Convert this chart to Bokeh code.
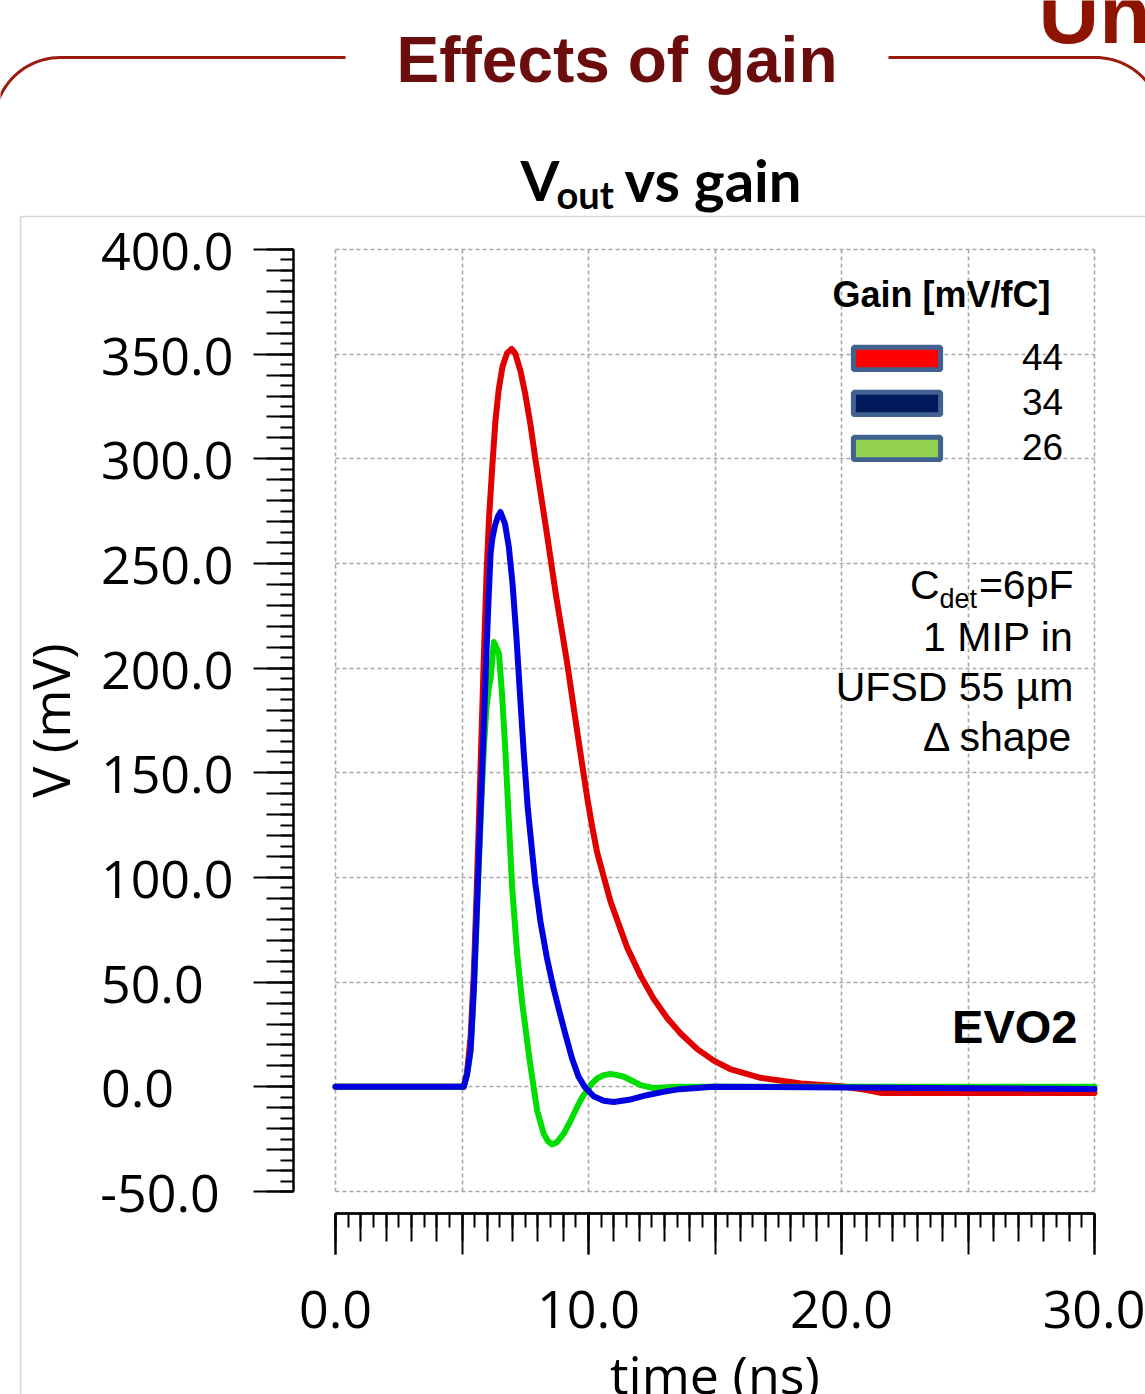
import numpy as np
from bokeh.plotting import figure
from bokeh.models import (Range1d, LinearAxis, FixedTicker, Grid, Label, Legend,
                          LegendItem, ColumnDataSource, PolyAnnotation, BoxAnnotation)
from bokeh.embed import file_html
from bokeh.resources import INLINE

# ---------------- data ----------------
gains = ["44", "34", "26"]
line_colors = ["#e00000", "#0000e0", "#00dd00"]
swatch_colors = ["#ff0000", "#001a5c", "#92d050"]

t_44 = [0.0, 5.07, 5.2, 5.34, 5.47, 5.57, 5.67, 5.77, 5.87, 5.97, 6.07, 6.19, 6.32, 6.45,
        6.6, 6.78, 6.96, 7.1, 7.31, 7.5, 7.71, 7.9, 8.04, 8.37, 8.7, 8.89, 9.15, 9.55, 9.95,
        10.15, 10.34, 10.87, 11.53, 12.06, 12.58, 13.1, 13.64, 14.3, 14.95, 15.6, 16.8,
        18.4, 20.0, 21.0, 21.6, 30.0]
v_44 = [0.0, 0.0, 7.0, 24.0, 55.0, 90.0, 128.0, 168.0, 208.0, 245.0, 272.0, 295.0, 318.0,
        333.0, 344.0, 350.5, 352.5, 350.5, 342.0, 331.0, 316.0, 300.0, 289.0, 263.0, 236.0,
        222.0, 203.0, 170.0, 138.0, 124.0, 112.0, 88.5, 66.5, 53.0, 42.0, 33.0, 25.5, 18.0,
        12.5, 8.5, 4.3, 1.6, 0.3, -1.5, -3.0, -3.0]

t_34 = [0.0, 5.07, 5.2, 5.34, 5.47, 5.57, 5.67, 5.77, 5.87, 5.96, 6.04, 6.13, 6.2, 6.3,
        6.42, 6.52, 6.7, 6.85, 7.0, 7.15, 7.3, 7.45, 7.6, 7.75, 7.9, 8.1, 8.35, 8.6, 8.85,
        9.1, 9.35, 9.6, 9.85, 10.2, 10.6, 11.0, 11.6, 12.3, 13.0, 13.6, 14.95, 30.0]
v_34 = [0.0, 0.0, 6.0, 17.6, 47.6, 79.4, 111.0, 143.0, 175.0, 205.0, 230.0, 255.0, 262.0,
        268.0, 272.5, 274.6, 269.0, 258.0, 240.0, 215.0, 186.0, 158.0, 133.0, 115.0, 97.0,
        79.0, 62.0, 48.0, 36.0, 24.5, 13.5, 5.0, 0.0, -4.5, -6.6, -7.2, -6.2, -4.0, -2.3,
        -1.1, 0.0, -1.0]

t_26 = [0.0, 5.07, 5.2, 5.34, 5.47, 5.57, 5.67, 5.77, 5.87, 5.96, 6.05, 6.13, 6.26, 6.46,
        6.59, 6.72, 6.85, 6.98, 7.18, 7.38, 7.68, 7.97, 8.23, 8.4, 8.56, 8.75, 9.02, 9.3,
        9.55, 9.75, 9.95, 10.15, 10.34, 10.6, 10.87, 11.1, 11.4, 11.7, 12.06, 12.57, 13.5,
        30.0]
v_26 = [0.0, 0.0, 6.0, 17.0, 46.0, 77.0, 108.0, 137.0, 163.0, 180.0, 190.0, 195.0, 212.5,
        207.0, 186.2, 159.1, 127.3, 95.5, 63.6, 40.0, 12.0, -11.3, -22.4, -26.0, -27.5,
        -26.5, -22.4, -16.0, -9.6, -5.0, -1.6, 1.8, 4.0, 5.6, 6.1, 5.7, 4.8, 3.0, 0.8, -0.6,
        0.0, 0.0]

x_major = [0.0, 10.0, 20.0, 30.0]
x_tick_labels = ["0.0", "10.0", "20.0", "30.0"]
x_grid = [0.0, 5.0, 10.0, 15.0, 20.0, 25.0, 30.0]
y_major = [-50.0, 0.0, 50.0, 100.0, 150.0, 200.0, 250.0, 300.0, 350.0, 400.0]
y_tick_labels = ["-50.0", "0.0", "50.0", "100.0", "150.0", "200.0", "250.0", "300.0",
                 "350.0", "400.0"]

# ---------------- layout (page pixels -> data) ----------------
W, H = 1145, 1394
PX0, PX30 = 335.0, 1094.0
PY400, PYM50 = 249.0, 1191.0
SX = (PX30 - PX0) / 30.0
SY = (PYM50 - PY400) / 450.0


def dx(px):
    return (px - PX0) / SX


def dy(py):
    return 400.0 - (py - PY400) / SY


p = figure(width=W, height=H, x_range=Range1d(dx(0), dx(W)),
           y_range=Range1d(dy(H), dy(0)), x_axis_type=None, y_axis_type=None,
           toolbar_location=None, output_backend="svg", min_border=0,
           outline_line_color=None, background_fill_color="white",
           border_fill_color="white")

# grid (dotted, bounded to the data box)
grid_kw = dict(grid_line_color="#a8a8a8", grid_line_dash="4 3", grid_line_width=1.6)
xg = Grid(dimension=0, ticker=FixedTicker(ticks=x_grid), cross_bounds=(-50.0, 400.0), **grid_kw)
yg = Grid(dimension=1, ticker=FixedTicker(ticks=y_major), cross_bounds=(0.0, 30.0), **grid_kw)
p.add_layout(xg)
p.add_layout(yg)

# axes
ax_kw = dict(axis_line_color="black", axis_line_width=2,
             major_tick_line_color="black", major_tick_line_width=2,
             minor_tick_line_color="black", minor_tick_line_width=2,
             major_tick_in=0, minor_tick_in=0,
             major_label_text_font="Open Sans", major_label_text_font_size="52px",
             major_label_text_color="black",
             axis_label_text_font="Open Sans", axis_label_text_font_size="52px",
             axis_label_text_font_style="normal", axis_label_text_color="black")


def left_pad(s):
    # the reference's y labels are flush left: pad the shorter ones on the right
    # with figure spaces (digit width) / punctuation space (for the minus sign)
    if s.startswith("-"):
        return s + "\u2008"
    return s + "\u2007" * (5 - len(s))


y_loc = dx(293)
yax = LinearAxis(fixed_location=y_loc, bounds=(-50.0, 400.0),
                 ticker=FixedTicker(ticks=y_major, minor_ticks=list(np.arange(-50, 401, 10.0))),
                 major_label_overrides={v: left_pad(s) for v, s in zip(y_major, y_tick_labels)},
                 major_tick_out=40, minor_tick_out=27, major_label_standoff=20,
                 axis_label="V (mV)", axis_label_standoff=12, **ax_kw)
yax2 = LinearAxis(fixed_location=y_loc, bounds=(-50.0, 400.0),
                  ticker=FixedTicker(ticks=[], minor_ticks=list(np.arange(-50, 401, 5.0))),
                  major_tick_out=0, minor_tick_out=13, **ax_kw)
p.add_layout(yax, "left")
p.add_layout(yax2, "left")

x_loc = dy(1213)
xax = LinearAxis(fixed_location=x_loc, bounds=(0.0, 30.0),
                 ticker=FixedTicker(ticks=x_major, minor_ticks=list(np.arange(0, 30.01, 1.0))),
                 major_label_overrides={v: s for v, s in zip(x_major, x_tick_labels)},
                 major_tick_out=41, minor_tick_out=28, major_label_standoff=36,
                 axis_label="time (ns)", axis_label_standoff=7, **ax_kw)
xax2 = LinearAxis(fixed_location=x_loc, bounds=(0.0, 30.0),
                  ticker=FixedTicker(ticks=[], minor_ticks=x_grid),
                  major_tick_out=0, minor_tick_out=41, **ax_kw)
xax3 = LinearAxis(fixed_location=x_loc, bounds=(0.0, 30.0),
                  ticker=FixedTicker(ticks=[], minor_ticks=list(np.arange(0, 30.01, 0.5))),
                  major_tick_out=0, minor_tick_out=14, **ax_kw)
p.add_layout(xax, "below")
p.add_layout(xax2, "below")
p.add_layout(xax3, "below")

# curves (red, green, blue drawn in that order)
series = {"44": (t_44, v_44), "34": (t_34, v_34), "26": (t_26, v_26)}
for g in ["44", "26", "34"]:
    t, v = series[g]
    p.line("t", "v", source=ColumnDataSource(dict(t=t, v=v)),
           line_color=line_colors[gains.index(g)], line_width=6, line_join="round",
           line_cap="round")

# legend swatches (renderers hold no visible data: NaN)
items = []
nan = float("nan")
for g, c in zip(gains, swatch_colors):
    r = p.quad(left=[nan], right=[nan], top=[nan], bottom=[nan], fill_color=c,
               line_color="#3f6290", line_width=5)
    items.append(LegendItem(label=g, renderers=[r]))
legend = Legend(items=items, location=(842, H - 470), orientation="vertical",
                glyph_width=109, glyph_height=28, label_height=45, spacing=0,
                label_standoff=71, padding=0, margin=0, border_line_color=None,
                background_fill_alpha=0, label_text_font="Liberation Sans",
                label_text_font_size="37px", label_text_color="black")
p.add_layout(legend)

# ---------------- decorations / texts ----------------
# gray picture border
p.add_layout(BoxAnnotation(left=dx(20), right=dx(1400), top=dy(216), bottom=dy(1600),
                           fill_color=None, line_color="#d6d6d6", line_alpha=1.0,
                           line_width=1.5))

# header lines with rounded corners
r_c = 66.4
th = np.linspace(np.pi / 2, np.radians(160), 20)
lx = list(60 + r_c * np.cos(th))[::-1] + [345.0]
ly = list(123.4 - r_c * np.sin(th))[::-1] + [57.0]
th2 = np.linspace(np.pi / 2, np.radians(30), 20)
rx = [888.0] + list(1095 + r_c * np.cos(th2))
ry = [57.0] + list(123.4 - r_c * np.sin(th2))
for xs, ys in ((lx, ly), (rx, ry)):
    px_ = xs + xs[::-1]
    py_ = ys + ys[::-1]
    p.add_layout(PolyAnnotation(xs=[dx(a) for a in px_], ys=[dy(b) for b in py_],
                                fill_color=None, fill_alpha=0, line_color="#9b1c0c",
                                line_alpha=1.0, line_width=3))


def lab(x, y, text, size, font="Liberation Sans", style="normal", color="black",
        align="left"):
    # y is the wanted baseline (page px); compensate the renderer's baseline offset
    yb = y - 0.37 * size
    p.add_layout(Label(x=dx(x), y=dy(yb), text=text, text_font=font,
                       text_font_size=f"{size}px", text_font_style=style,
                       text_color=color, text_align=align, text_baseline="alphabetic"))


lab(1038, 45, "Un", 84, style="bold", color="#8e1400")
lab(616.5, 83, "Effects of gain", 64, style="bold", color="#6b0d0d", align="center")
lab(520, 200, "V", 56, font="Lato", style="bold")
lab(556, 208, "out", 38, font="Lato", style="bold")
lab(624, 200, "vs gain", 58, font="Lato", style="bold")

lab(832, 307, "Gain [mV/fC]", 36, style="bold")

lab(939, 600, "C", 41, align="right")
lab(939, 608, "det", 27)
lab(1073, 600, "=6pF", 41, align="right")
lab(1073, 652, "1 MIP in", 41, align="right")
lab(1073, 702, "UFSD 55 µm", 41, align="right")
lab(1073, 752, "Δ shape", 41, align="right")
lab(1077, 1043, "EVO2", 47, style="bold", align="right")

open("out.html", "w").write(file_html(p, INLINE))
